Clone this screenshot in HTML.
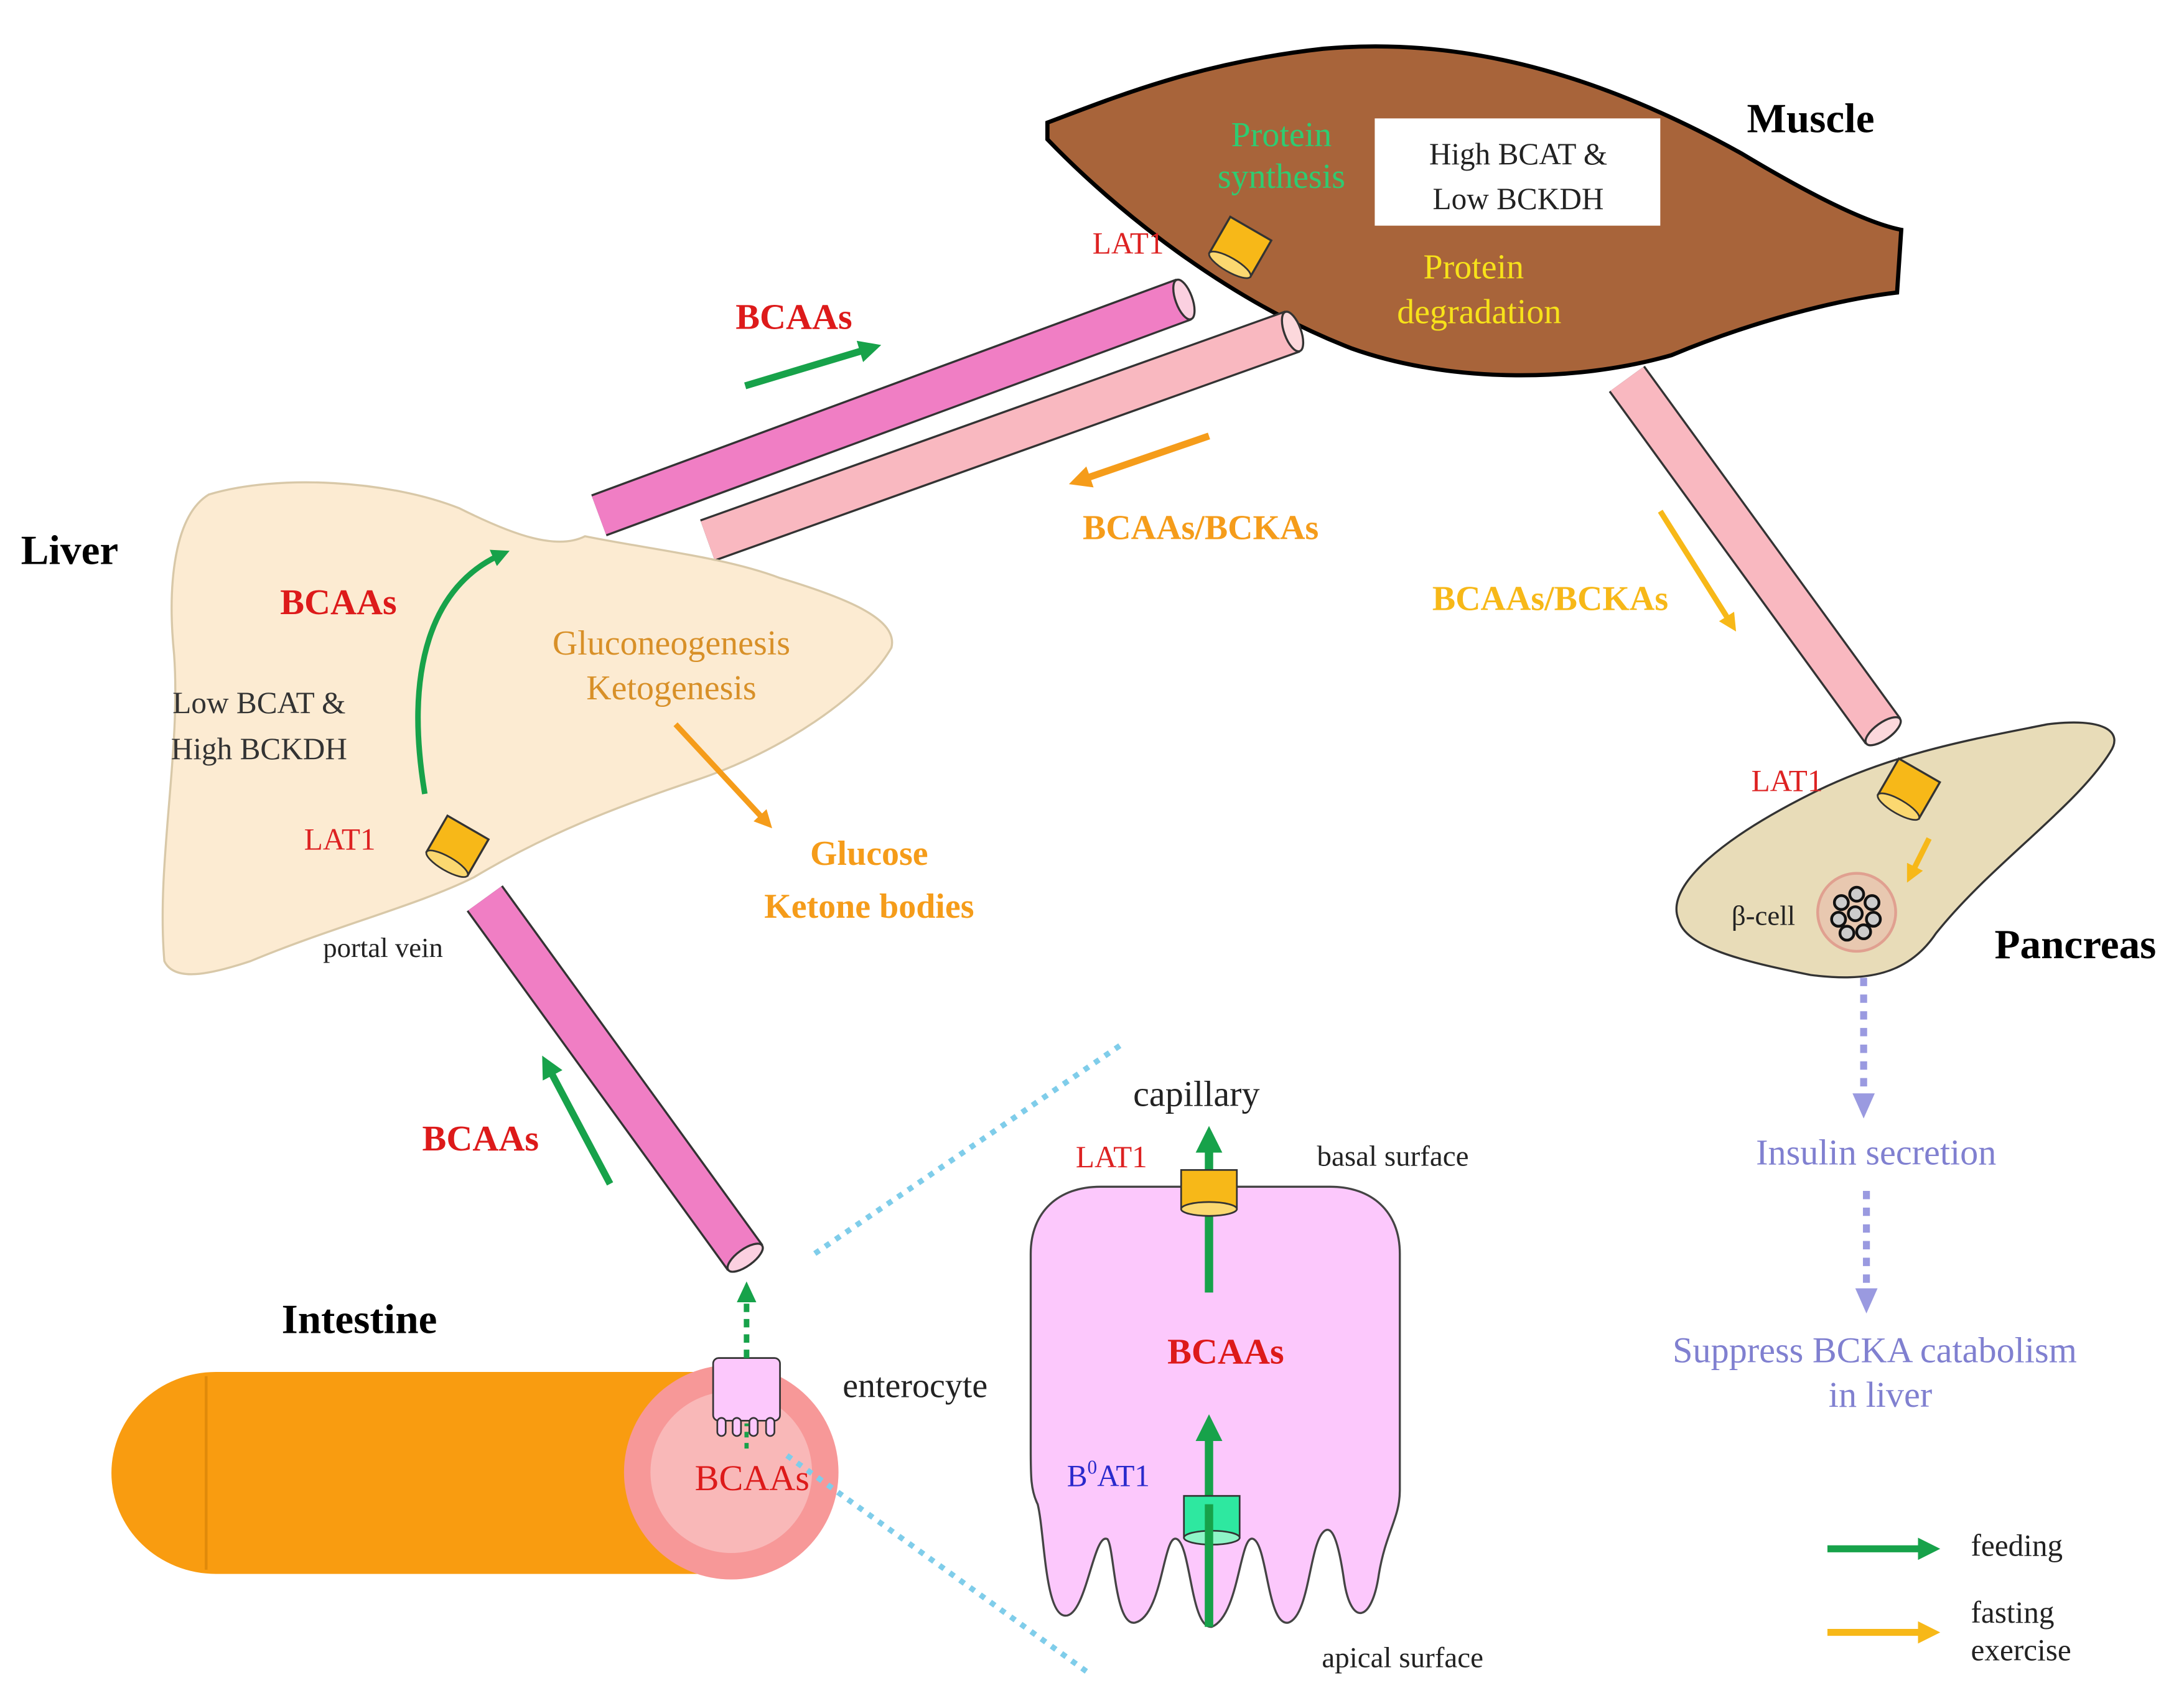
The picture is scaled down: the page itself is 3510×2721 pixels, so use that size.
<!DOCTYPE html>
<html><head><meta charset="utf-8"><style>
html,body{margin:0;padding:0;background:#fff}
svg{display:block}
text{font-family:"Liberation Serif",serif}
</style></head><body>
<svg width="3510" height="2721" viewBox="0 0 1568 1215.5" xmlns="http://www.w3.org/2000/svg">
<defs>
<marker id="ag" viewBox="0 0 10 10" refX="5" refY="5" markerWidth="3.2" markerHeight="3.2" orient="auto"><path d="M0,0L10,5L0,10z" fill="#17a24a"/></marker>
<marker id="ao" viewBox="0 0 10 10" refX="5" refY="5" markerWidth="3.2" markerHeight="3.2" orient="auto"><path d="M0,0L10,5L0,10z" fill="#f59c1a"/></marker>
<marker id="ay" viewBox="0 0 10 10" refX="5" refY="5" markerWidth="3.2" markerHeight="3.2" orient="auto"><path d="M0,0L10,5L0,10z" fill="#f7b818"/></marker>
<marker id="ap" viewBox="0 0 10 10" refX="5" refY="5" markerWidth="3.5" markerHeight="3.5" orient="auto"><path d="M0,0L10,5L0,10z" fill="#9a9ae0"/></marker>
</defs>

<!-- Muscle -->
<path d="M752,88 C800,70 860,45 950,35 C1060,25 1160,60 1250,110 C1300,140 1340,160 1365,165 L1362,210 C1320,215 1260,230 1200,255 C1130,275 1040,275 970,250 C880,215 800,150 752,100 Z" fill="#a8643a" stroke="#000" stroke-width="3"/>
<rect x="987" y="85" width="205" height="77" fill="#fff"/>
<text x="1090" y="118" font-size="22" text-anchor="middle" fill="#222">High BCAT  &amp;</text>
<text x="1090" y="150" font-size="22" text-anchor="middle" fill="#222">Low BCKDH</text>
<text x="920" y="105" font-size="25" text-anchor="middle" fill="#2ecc71">Protein</text>
<text x="920" y="135" font-size="25" text-anchor="middle" fill="#2ecc71">synthesis</text>
<text x="1058" y="200" font-size="25" text-anchor="middle" fill="#f7e21a">Protein</text>
<text x="1062" y="232" font-size="25" text-anchor="middle" fill="#f7e21a">degradation</text>
<text x="1300" y="95" font-size="30" font-weight="bold" text-anchor="middle">Muscle</text>

<!-- tubes -->
<g stroke="#333" stroke-width="1.5">
<line x1="430" y1="370" x2="850" y2="215" stroke="#333" stroke-width="32" stroke-linecap="butt"/>
<line x1="430" y1="370" x2="850" y2="215" stroke="#f07ec4" stroke-width="29"/>
<ellipse cx="850" cy="215" rx="6" ry="15" transform="rotate(-20 850 215)" fill="#fbd0e0"/>
<line x1="508" y1="388" x2="928" y2="238" stroke="#333" stroke-width="32"/>
<line x1="508" y1="388" x2="928" y2="238" stroke="#f9b8c0" stroke-width="29"/>
<ellipse cx="928" cy="238" rx="6" ry="15" transform="rotate(-20 928 238)" fill="#fcd8dc"/>
<line x1="1168" y1="272" x2="1352" y2="525" stroke="#333" stroke-width="32"/>
<line x1="1168" y1="272" x2="1352" y2="525" stroke="#f9b8c0" stroke-width="29"/>
<ellipse cx="1352" cy="525" rx="6" ry="15" transform="rotate(54 1352 525)" fill="#fcd8dc"/>
<line x1="348" y1="645" x2="535" y2="903" stroke="#333" stroke-width="32"/>
<line x1="348" y1="645" x2="535" y2="903" stroke="#f07ec4" stroke-width="29"/>
<ellipse cx="535" cy="903" rx="6" ry="15" transform="rotate(54 535 903)" fill="#fbd0e0"/>
</g>

<!-- Liver -->
<path d="M150,355 C200,340 280,345 330,365 C370,385 400,395 420,385 C470,395 520,400 560,415 C610,430 645,445 640,465 C620,500 560,540 500,560 C440,580 390,600 340,630 C300,650 240,665 180,690 C150,700 125,705 118,690 C112,620 130,540 125,470 C120,420 125,370 150,355 Z" fill="#fcebd2" stroke="#d8c8a8" stroke-width="1.5"/>
<text x="50" y="405" font-size="30" font-weight="bold" text-anchor="middle">Liver</text>
<text x="243" y="441" font-size="26" font-weight="bold" fill="#dd1a1a" text-anchor="middle">BCAAs</text>
<text x="186" y="512" font-size="22" fill="#333" text-anchor="middle">Low BCAT &amp;</text>
<text x="186" y="545" font-size="22" fill="#333" text-anchor="middle">High BCKDH</text>
<text x="482" y="470" font-size="25" fill="#d89028" text-anchor="middle">Gluconeogenesis</text>
<text x="482" y="502" font-size="25" fill="#d89028" text-anchor="middle">Ketogenesis</text>
<text x="244" y="610" font-size="22" fill="#dd2222" text-anchor="middle">LAT1</text>
<text x="275" y="687" font-size="20" fill="#222" text-anchor="middle">portal vein</text>
<path d="M305,570 C290,480 310,420 360,398" fill="none" stroke="#17a24a" stroke-width="4" marker-end="url(#ag)"/>
<line x1="485" y1="520" x2="550" y2="590" stroke="#f59c1a" stroke-width="4" marker-end="url(#ao)"/>
<text x="624" y="621" font-size="25" font-weight="bold" fill="#f59c1a" text-anchor="middle">Glucose</text>
<text x="624" y="659" font-size="25" font-weight="bold" fill="#f59c1a" text-anchor="middle">Ketone bodies</text>

<!-- transporters -->
<g transform="rotate(30 328 608)"><rect x="311" y="592" width="34" height="30" fill="#f7b818" stroke="#333" stroke-width="1.5"/><ellipse cx="328" cy="622" rx="17" ry="5" fill="#fbd870" stroke="#333" stroke-width="1.2"/></g>
<g transform="rotate(30 890 178)"><rect x="873" y="162" width="34" height="30" fill="#f7b818" stroke="#333" stroke-width="1.5"/><ellipse cx="890" cy="192" rx="17" ry="5" fill="#fbd870" stroke="#333" stroke-width="1.2"/></g>
<text x="810" y="182" font-size="22" fill="#dd2222" text-anchor="middle">LAT1</text>

<!-- arrows middle -->
<text x="570" y="236" font-size="26" font-weight="bold" fill="#dd1a1a" text-anchor="middle">BCAAs</text>
<line x1="535" y1="277" x2="625" y2="250" stroke="#17a24a" stroke-width="5" marker-end="url(#ag)"/>
<line x1="868" y1="313" x2="775" y2="345" stroke="#f59c1a" stroke-width="5" marker-end="url(#ao)"/>
<text x="862" y="387" font-size="25" font-weight="bold" fill="#f59c1a" text-anchor="middle">BCAAs/BCKAs</text>
<text x="1113" y="438" font-size="25" font-weight="bold" fill="#f7b818" text-anchor="middle">BCAAs/BCKAs</text>
<line x1="1192" y1="367" x2="1243" y2="448" stroke="#f7b818" stroke-width="4" marker-end="url(#ay)"/>

<!-- Pancreas -->
<path d="M1205,660 C1195,635 1240,600 1300,570 C1360,540 1420,530 1470,520 C1510,515 1525,525 1515,540 C1490,580 1430,620 1390,670 C1370,700 1340,705 1300,700 C1250,690 1210,680 1205,660 Z" fill="#e8dcb8" stroke="#333" stroke-width="1.5"/>
<g transform="rotate(30 1370 567)"><rect x="1353" y="551" width="34" height="30" fill="#f7b818" stroke="#333" stroke-width="1.5"/><ellipse cx="1370" cy="581" rx="17" ry="5" fill="#fbd870" stroke="#333" stroke-width="1.2"/></g>
<text x="1283" y="568" font-size="22" fill="#dd2222" text-anchor="middle">LAT1</text>
<line x1="1385" y1="602" x2="1372" y2="628" stroke="#f7b818" stroke-width="4" marker-end="url(#ay)"/>
<circle cx="1333" cy="655" r="28" fill="#e8c8b0" stroke="#e0a090" stroke-width="2"/>
<g fill="#ccc" stroke="#111" stroke-width="2">
<circle cx="1322" cy="648" r="5"/><circle cx="1333" cy="642" r="5"/><circle cx="1344" cy="648" r="5"/>
<circle cx="1320" cy="660" r="5"/><circle cx="1332" cy="656" r="5"/><circle cx="1345" cy="660" r="5"/>
<circle cx="1326" cy="670" r="5"/><circle cx="1338" cy="669" r="5"/>
</g>
<text x="1266" y="664" font-size="20" fill="#222" text-anchor="middle">β-cell</text>
<text x="1490" y="688" font-size="30" font-weight="bold" text-anchor="middle">Pancreas</text>
<line x1="1338" y1="702" x2="1338" y2="790" stroke="#9a9ae0" stroke-width="5" stroke-dasharray="6,6"/>
<path d="M1330,785 L1346,785 L1338,803 Z" fill="#9a9ae0"/>
<text x="1347" y="836" font-size="26" fill="#8080d0" text-anchor="middle">Insulin  secretion</text>
<line x1="1340" y1="855" x2="1340" y2="928" stroke="#9a9ae0" stroke-width="5" stroke-dasharray="6,6"/>
<path d="M1332,925 L1348,925 L1340,943 Z" fill="#9a9ae0"/>
<text x="1346" y="978" font-size="26" fill="#8080d0" text-anchor="middle">Suppress BCKA catabolism</text>
<text x="1350" y="1010" font-size="26" fill="#8080d0" text-anchor="middle">in liver</text>

<!-- legend -->
<line x1="1312" y1="1112" x2="1385" y2="1112" stroke="#17a24a" stroke-width="5" marker-end="url(#ag)"/>
<text x="1415" y="1117" font-size="22" fill="#222">feeding</text>
<line x1="1312" y1="1172" x2="1385" y2="1172" stroke="#f7b818" stroke-width="5" marker-end="url(#ay)"/>
<text x="1415" y="1165" font-size="22" fill="#222">fasting</text>
<text x="1415" y="1192" font-size="22" fill="#222">exercise</text>

<!-- Intestine -->
<path d="M155,985 L530,985 L530,1130 L155,1130 A75,72.5 0 0 1 155,985 Z" fill="#f99c10"/>
<line x1="148" y1="988" x2="148" y2="1127" stroke="#e08a0a" stroke-width="2"/>
<circle cx="525" cy="1057" r="77" fill="#f79898"/>
<circle cx="525" cy="1057" r="58" fill="#f9b8b8"/>
<text x="258" y="957" font-size="30" font-weight="bold" text-anchor="middle">Intestine</text>
<text x="540" y="1070" font-size="26" fill="#dd1a1a" text-anchor="middle">BCAAs</text>
<text x="657" y="1003" font-size="25" fill="#222" text-anchor="middle">enterocyte</text>
<rect x="512" y="975" width="48" height="45" rx="4" fill="#fcc8fc" stroke="#333" stroke-width="1.2"/>
<g stroke="#333" stroke-width="1.2" fill="#fcc8fc"><rect x="515" y="1018" width="6" height="13" rx="3"/><rect x="526" y="1018" width="6" height="13" rx="3"/><rect x="538" y="1018" width="6" height="13" rx="3"/><rect x="550" y="1018" width="6" height="13" rx="3"/></g>
<line x1="536" y1="975" x2="536" y2="932" stroke="#17a24a" stroke-width="4" stroke-dasharray="6,5"/>
<path d="M529,935 L543,935 L536,920 Z" fill="#17a24a"/>
<line x1="536" y1="1040" x2="536" y2="1022" stroke="#17a24a" stroke-width="3" stroke-dasharray="4,4"/>
<text x="345" y="826" font-size="26" font-weight="bold" fill="#dd1a1a" text-anchor="middle">BCAAs</text>
<line x1="438" y1="850" x2="393" y2="765" stroke="#17a24a" stroke-width="5" marker-end="url(#ag)"/>

<!-- dotted lines -->
<line x1="585" y1="900" x2="808" y2="748" stroke="#7fcdea" stroke-width="4" stroke-dasharray="4,5"/>
<line x1="565" y1="1045" x2="780" y2="1200" stroke="#7fcdea" stroke-width="4" stroke-dasharray="4,5"/>

<!-- enterocyte detail -->
<path d="M790,852 L955,852 C985,852 1005,870 1005,900 L1005,1070 C1005,1090 995,1100 990,1130 C985,1165 970,1168 965,1135 C960,1100 955,1095 950,1100 C940,1110 940,1160 925,1165 C910,1168 910,1110 900,1105 C890,1100 890,1160 870,1168 C855,1170 855,1110 845,1105 C835,1100 835,1160 815,1165 C800,1168 800,1110 795,1105 C785,1100 780,1160 765,1160 C750,1160 750,1100 745,1080 C740,1070 740,1060 740,1040 L740,900 C740,870 760,852 790,852 Z" fill="#fcc8fc" stroke="#444" stroke-width="1.5"/>
<line x1="868" y1="928" x2="868" y2="818" stroke="#17a24a" stroke-width="6" marker-end="url(#ag)"/>
<rect x="848" y="840" width="40" height="28" fill="#f7b818" stroke="#333" stroke-width="1.2"/>
<ellipse cx="868" cy="868" rx="20" ry="5" fill="#fbd870" stroke="#333" stroke-width="1.2"/>
<line x1="868" y1="1168" x2="868" y2="1025" stroke="#17a24a" stroke-width="6" marker-end="url(#ag)"/>
<rect x="850" y="1074" width="40" height="30" fill="#2ee8a0" stroke="#333" stroke-width="1.2"/>
<ellipse cx="870" cy="1104" rx="20" ry="5" fill="#8ff5c8" stroke="#333" stroke-width="1.2"/>
<line x1="868" y1="1080" x2="868" y2="1168" stroke="#17a24a" stroke-width="6"/>
<text x="859" y="794" font-size="26" fill="#222" text-anchor="middle">capillary</text>
<text x="798" y="838" font-size="22" fill="#dd2222" text-anchor="middle">LAT1</text>
<text x="1000" y="837" font-size="21" fill="#222" text-anchor="middle">basal  surface</text>
<text x="880" y="979" font-size="26" font-weight="bold" fill="#dd1a1a" text-anchor="middle">BCAAs</text>
<text x="766" y="1067" font-size="22" fill="#2a2acc">B<tspan font-size="14" dy="-9">0</tspan><tspan dy="9">AT1</tspan></text>
<text x="1007" y="1197" font-size="21" fill="#222" text-anchor="middle">apical  surface</text>
</svg>
</body></html>
